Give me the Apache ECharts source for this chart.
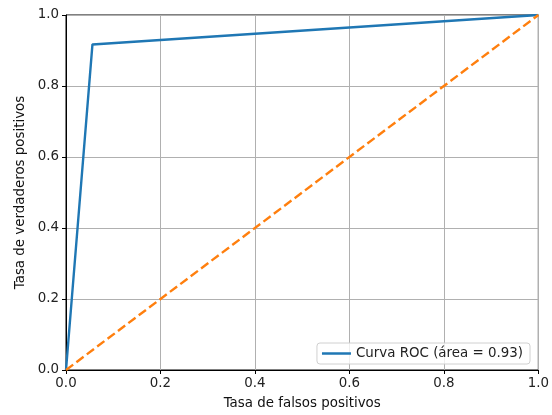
<!DOCTYPE html>
<html><head><meta charset="utf-8">
<script src="https://cdn.jsdelivr.net/npm/echarts@6/dist/echarts.min.js"></script>
<style>html,body{margin:0;padding:0;background:#fff}#c{width:552px;height:415px}</style>
</head><body><div id="c"></div>
<script>
const rocFpr = [0.0, 0.056, 1.0];
const rocTpr = [0.0, 0.917, 1.0];
const diagX = [0, 1];
const diagY = [0, 1];
const rocLabel = 'Curva ROC (área = 0.93)';
const xTitle = 'Tasa de falsos positivos';
const yTitle = 'Tasa de verdaderos positivos';

const font = 'DejaVu Sans';
const fs = 13.4;
const chart = echarts.init(document.getElementById('c'), null, {renderer: 'canvas'});
const axisCommon = {
  type: 'value', min: 0, max: 1, interval: 0.2,
  axisLine: {show: true, onZero: false, lineStyle: {color: '#000', width: 1}},
  axisTick: {show: true, length: 4, lineStyle: {color: '#000', width: 1}},
  axisLabel: {color: '#222', fontFamily: font, fontSize: fs, margin: 7, formatter: v => v.toFixed(1)},
  splitLine: {show: true, lineStyle: {color: '#b0b0b0', width: 1}},
  nameTextStyle: {color: '#111', fontFamily: font, fontSize: fs}
};
chart.setOption({
  animation: false,
  backgroundColor: '#fff',
  grid: {left: 66, right: 9, top: 15, bottom: 45, show: true, borderColor: '#000', borderWidth: 1},
  xAxis: Object.assign({}, axisCommon, {name: xTitle, nameLocation: 'middle', nameGap: 27}),
  yAxis: Object.assign({}, axisCommon, {name: yTitle, nameLocation: 'middle', nameGap: 37}),
  legend: {
    data: [{name: rocLabel, icon: 'rect'}], right: 22, bottom: 51,
    backgroundColor: 'rgba(255,255,255,0.8)', borderColor: '#d0d0d0', borderWidth: 1, borderRadius: 3,
    padding: [4, 7, 4, 5], itemWidth: 29, itemHeight: 2.5, itemGap: 8,
    textStyle: {color: '#222', fontFamily: font, fontSize: fs}
  },
  series: [
    {name: rocLabel, type: 'line', data: rocFpr.map((x, i) => [x, rocTpr[i]]), symbol: 'none',
     lineStyle: {color: '#1f77b4', width: 2.4}, itemStyle: {color: '#1f77b4'}, z: 3},
    {name: 'diag', type: 'line', data: diagX.map((x, i) => [x, diagY[i]]), symbol: 'none',
     lineStyle: {color: '#ff7f0e', width: 2.4, type: [9, 4]}, itemStyle: {color: '#ff7f0e'}, z: 3}
  ]
});
</script></body></html>
